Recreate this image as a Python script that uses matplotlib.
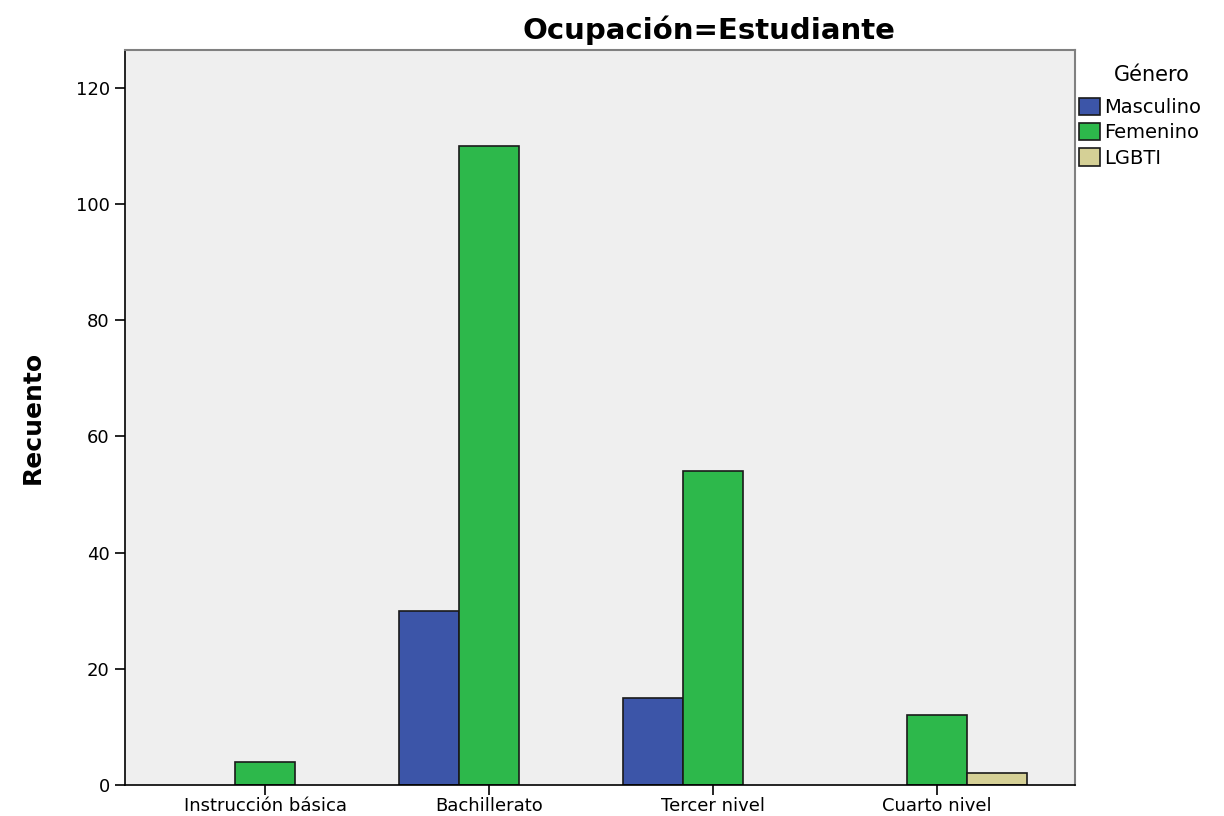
import numpy as np
import matplotlib
matplotlib.use("Agg")
import matplotlib.pyplot as plt

plt.rcParams['font.family'] = ['DejaVu Sans']

categorias = ["Instrucción básica", "Bachillerato", "Tercer nivel", "Cuarto nivel"]
masculino = [0, 30, 15, 0]
femenino = [4, 110, 54, 12]
lgbti = [0, 0, 0, 2]

series = [("Masculino", masculino, "#3c55a8"),
          ("Femenino", femenino, "#2db84b"),
          ("LGBTI", lgbti, "#d5d096")]

fig = plt.figure(figsize=(12.24, 8.16), dpi=100)
ax = fig.add_axes([125/1224, 1 - 785/816, 950/1224, 735/816])
ax.set_facecolor("#efefef")

x = np.arange(len(categorias))
w = 0.268
for i, (nombre, vals, col) in enumerate(series):
    bars = ax.bar(x + (i - 1) * w, vals, width=w, color=col, edgecolor="#1a1a1a",
                  linewidth=1.2, label=nombre)
    # SPSS no dibuja barras vacias
    for b, v in zip(bars, vals):
        if v == 0:
            b.set_visible(False)

ax.set_xlim(-0.625, 3.616)
ax.set_ylim(0, 126.5)
ax.set_yticks([0, 20, 40, 60, 80, 100, 120])
ax.set_xticks(x)
ax.set_xticklabels(categorias)
ax.tick_params(axis='both', labelsize=13, length=7, width=1.2, color="black", direction='out')
ax.tick_params(axis='x', pad=1.5)
ax.tick_params(axis='y', pad=4)

for s in ["left", "bottom"]:
    ax.spines[s].set_color("black")
    ax.spines[s].set_linewidth(1.2)
for s in ["top", "right"]:
    ax.spines[s].set_color("#808080")
    ax.spines[s].set_linewidth(1.5)

ax.set_ylabel("Recuento", fontsize=18, fontweight="bold", labelpad=22)
fig.text(709/1224, 1 - 30/816, "Ocupación=Estudiante", fontsize=21,
         fontweight="bold", ha="center", va="center")

# leyenda a la derecha, titulo aparte como en SPSS
fig.text(1152/1224, 1 - 75/816, "Género", fontsize=15, ha="center", va="center")
leg = ax.legend(loc="upper left", bbox_to_anchor=(1.004, 0.935), frameon=False,
                fontsize=14, handlelength=1.1, handleheight=1.0, handletextpad=0.2,
                labelspacing=0.3, borderaxespad=0, borderpad=0)
for h in leg.legend_handles:
    h.set_visible(True)

fig.savefig("out.png", dpi=100)
